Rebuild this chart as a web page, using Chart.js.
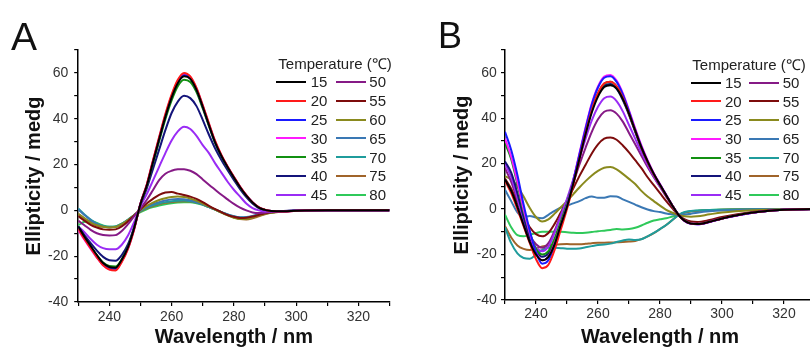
<!DOCTYPE html>
<html><head><meta charset="utf-8">
<script src="https://cdn.jsdelivr.net/npm/chart.js@4.4.1/dist/chart.umd.min.js"></script>
<style>
html,body{margin:0;padding:0;background:#fff;width:810px;height:349px;overflow:hidden;position:relative;font-family:"Liberation Sans",Arial,sans-serif;}
.panel{position:absolute;top:0;}
.letter{position:absolute;color:#111;line-height:1;}
.lg{position:absolute;font-size:15px;color:#222;line-height:18px;white-space:nowrap;}
.sw{position:absolute;height:2px;}
</style></head><body>
<div class="panel" style="left:0;width:400px;height:349px"><canvas id="ca" width="400" height="349"></canvas></div>
<div class="panel" style="left:420px;width:410px;height:349px"><canvas id="cb" width="410" height="349"></canvas></div>
<div class="letter" style="left:11px;top:17px;font-size:39px">A</div>
<div class="letter" style="left:438px;top:17.8px;font-size:36px">B</div>
<div id="legA"></div><div id="legB"></div>
<script>
// ---- data ----
const wavelengths = [230,232,234,236,238,240,242,244,246,248,250,252,254,256,258,260,262,264,266,268,270,272,274,276,278,280,282,284,286,288,290,292,296,300,310,320,330];
const temperatures = ['15','20','25','30','35','40','45','50','55','60','65','70','75','80'];
const colors = ['#000000','#ff1a1a','#1a1aff','#ff1aff','#119011','#14147a','#9a2cf5','#861a86','#7d0c0c','#8a8a1e','#3a78b4','#1f9c9c','#a0642a','#2fc95a'];
const xTickLabels = [240,260,280,300,320];
const yTickLabels = [-40,-20,0,20,40,60];

// Panel A
const A15 = [-7,-11.5,-15.5,-19.5,-23,-24.7,-25,-21.5,-16,-7.6,2.8,10.6,20.9,31,40.8,49.2,55.5,58.5,57.4,52.6,45.2,37.2,29.6,23.7,18.8,14.3,10.1,6.4,3.4,1.2,0.2,-0.3,-0.4,-0.2,0,0,0];
const A20 = [-8,-12.5,-16.5,-20.5,-24,-25.8,-26.2,-22.5,-16.8,-8.2,3,11.2,21.8,32,42,50.5,57,60,58.5,53.5,46,38,30.3,24.2,19.2,14.7,10.4,6.7,3.6,1.4,0.3,-0.3,-0.5,-0.2,0,0,0];
const A25 = [-7.5,-12,-16,-20,-23.5,-25.2,-25.5,-22,-16.3,-7.8,2.9,10.8,21.2,31.3,41.2,49.6,56,59,57.8,52.9,45.4,37.4,29.8,23.8,18.9,14.4,10.2,6.5,3.4,1.3,0.2,-0.3,-0.4,-0.2,0,0,0];
const A30 = [-8.5,-12.8,-16.8,-20.6,-24,-25.7,-26,-22.3,-16.6,-8,3,11,21.5,31.7,41.6,50,56.5,59.5,58.2,53.2,45.7,37.7,30,24,19,14.5,10.3,6.6,3.5,1.3,0.2,-0.3,-0.5,-0.2,0,0,0];
const A35 = [-8,-12.2,-16,-19.6,-22.8,-24.3,-24.5,-21.3,-15.8,-7.5,2.7,10.3,20.3,30.2,39.8,48,54.2,57,56,51.6,44.5,36.8,29.3,23.5,18.6,14.2,10,6.4,3.3,1.2,0.2,-0.3,-0.4,-0.2,0,0,0];
const A40 = [-7,-10.8,-14.3,-17.6,-20.3,-21.8,-22,-19.5,-14.8,-7.2,2.5,9.5,18,26.5,35,42.5,47.5,50,49,45.5,39.5,33,27,22,17.5,13.3,9.3,5.8,3,1,0.2,-0.3,-0.4,-0.2,0,0,0];
const A45 = [-7,-9.5,-12.5,-15,-16.5,-17,-17,-15,-11,-5,1.8,7,13,19,25,30.5,34.5,36.5,35.5,32.5,28.5,25,20.5,16.5,12.5,9,6,3,1,0,-0.5,-0.5,-0.3,-0.1,0,0,0];
const A50 = [-4.5,-6.5,-8.5,-10,-10.8,-11,-10.8,-9,-6,-2.5,0.8,4.5,8.8,13.2,16,17.3,17.9,18,17.3,15.8,13.5,11.2,9,6.8,4.8,2.8,1.2,0,-0.9,-1.2,-1,-0.7,-0.3,-0.1,0,0,0];
const A55 = [-2.5,-4.5,-6.3,-7.5,-8.3,-8.5,-8.3,-7,-4.8,-2.2,0.5,3,5,6.8,7.8,8,7.3,6.7,6,5,3.6,2,0.5,-0.8,-2,-2.8,-3.3,-3.2,-2.7,-2,-1.3,-0.8,-0.4,-0.2,0,0,0];
const A60 = [-1.5,-3.5,-5.3,-6.5,-7.2,-7.5,-7.3,-6,-4.2,-2,0.2,2,3.4,4.5,5.3,5.8,6,5.8,5.2,4.2,3,1.6,0.3,-1,-2.2,-3.2,-3.8,-3.7,-3.1,-2.2,-1.5,-1,-0.5,-0.2,0,0,0];
const A65 = [0.5,-2,-4.3,-6,-7,-7.4,-7.2,-6,-4.2,-2,0,1.5,2.7,3.6,4.3,4.8,5,4.9,4.4,3.6,2.6,1.4,0.3,-0.8,-1.8,-2.6,-3,-2.9,-2.4,-1.7,-1.1,-0.7,-0.3,-0.1,0,0,0];
const A70 = [0.8,-1.8,-4,-5.8,-6.8,-7.2,-7,-5.8,-4,-2,-0.2,1.2,2.2,3,3.6,4,4.2,4.3,4,3.4,2.5,1.4,0.3,-0.8,-1.8,-2.6,-3.1,-3.1,-2.6,-1.9,-1.2,-0.8,-0.4,-0.1,0,0,0];
const A75 = [-1.5,-3.5,-5.3,-6.5,-7.2,-7.4,-7.2,-6,-4.2,-2.2,-0.4,0.9,1.9,2.7,3.3,3.7,3.9,4,3.9,3.4,2.6,1.5,0.4,-0.8,-2,-3,-3.8,-4,-3.5,-2.6,-1.7,-1.1,-0.5,-0.2,0,0,0];
const A80 = [-6.5,-5,-4.6,-5.5,-6.6,-7.2,-7,-5.8,-4.2,-2.4,-0.8,0.5,1.4,2.1,2.7,3.1,3.4,3.5,3.5,3.1,2.4,1.4,0.3,-0.9,-2,-3,-3.5,-3.5,-3,-2.2,-1.4,-0.9,-0.4,-0.1,0,0,0];

// Panel B
const B15 = [13,8,1,-7,-14.5,-20,-22.5,-21,-15.5,-7,1,11,22,33,42.5,49.5,53.7,54.5,53,48.5,42,34.5,27.2,21,15.5,10.7,6.1,1.5,-2.6,-5.2,-6.4,-6.6,-5.6,-4.1,-1.5,-0.3,0];
const B20 = [12.5,7,0,-7.5,-15,-22,-26,-24.5,-18,-9,0,10.5,22,33.5,43.5,51,55.3,56,54,49,42,34.5,27,20.8,15.3,10.6,6,1.5,-2.6,-5.2,-6.4,-6.6,-5.6,-4.1,-1.5,-0.3,0];
const B25 = [34,26,15,2,-9.5,-19,-24,-22.5,-16,-7.5,1,12,24,35.5,46,53.5,57.8,58.5,56,50.5,43,35,27.5,21,15.5,10.8,6.2,1.6,-2.6,-5.3,-6.5,-6.7,-5.7,-4.2,-1.6,-0.3,0];
const B30 = [31,23,12,0,-10.5,-19,-22.5,-21,-15,-7,1.5,12.5,24.5,36,46.5,54,58.3,59,56.5,51,43.5,35.5,28,21.5,15.8,11,6.3,1.6,-2.6,-5.3,-6.5,-6.7,-5.7,-4.2,-1.6,-0.3,0];
const B35 = [29,22,11,-1,-10.5,-17.5,-20,-18.5,-13,-5.5,2.5,12.5,23.5,34.5,44,51,55.2,56,54,49,42,34.5,27,20.8,15.3,10.6,6,1.5,-2.6,-5.2,-6.4,-6.6,-5.6,-4.1,-1.5,-0.3,0];
const B40 = [21,16,7,-3.5,-12.5,-18.5,-21,-19.5,-14,-6,2,12,23,34,43.5,50.5,54.3,55,53,48,41.5,34,27,20.8,15.3,10.6,6,1.5,-2.6,-5.2,-6.4,-6.6,-5.6,-4.1,-1.5,-0.3,0];
const B45 = [20,14,5,-5,-12.5,-17,-18.5,-16.5,-10.5,-3,4.5,13,22,31,39,45,48.8,49.5,47.5,43,37,31,25,19.5,14.5,10,5.7,1.4,-2.6,-5.2,-6.4,-6.6,-5.6,-4.1,-1.5,-0.3,0];
const B50 = [18,12,4,-5,-11.5,-15.5,-17,-15,-9.5,-2.5,4,11.5,19.5,27,34,39.5,42.8,43.5,42,38.5,33.5,28.5,23.5,18.5,14,9.8,5.5,1.3,-2.6,-5,-6.2,-6.4,-5.4,-4,-1.5,-0.3,0];
const B55 = [13.5,9,3,-3,-8,-11,-12,-10.5,-6.5,-1.5,3.5,9,14.5,19.5,24.5,28.5,31,31.5,30.5,28,25,21.5,18,14,10.5,7,3.5,0.3,-2.6,-4.5,-5.5,-5.7,-4.8,-3.5,-1.3,-0.3,0];
const B60 = [14.5,13,10,5.5,0.5,-3.5,-5.5,-4.5,-2,0.8,3.5,6.5,9.5,12.3,14.8,16.8,18.2,18.5,17.5,15.5,13.3,11,8,5.5,3.5,1.5,-0.3,-1.6,-2.6,-3.2,-3.4,-3.2,-2.3,-1.5,-0.5,-0.1,0];
const B65 = [8.5,3.5,-1.5,-3.5,-3,-3.7,-4,-2.5,-0.8,0.6,1.5,2.5,3.5,4.8,5.5,5,5,5.6,5.5,4.3,3.2,2,0.8,-0.2,-0.9,-1.3,-1.9,-2.3,-2.6,-2.4,-2,-1.6,-1,-0.6,-0.2,0,0];
const B70 = [-8,-15,-19.5,-21.5,-21.8,-20,-18,-17,-17,-17.2,-17.4,-17.5,-17.3,-16.8,-16.3,-15.8,-15.6,-15.2,-14.5,-13.8,-13.4,-13.6,-13.3,-12,-10.5,-8.8,-7,-4.8,-2.6,-1.3,-0.8,-0.6,-0.4,-0.3,-0.1,0,0];
const B75 = [-7.5,-12.5,-16,-17.5,-18,-17.3,-16.5,-16,-15.7,-15.5,-15.4,-15.5,-15.5,-15.3,-15,-14.8,-14.8,-14.7,-14.6,-14.5,-14.3,-14,-13.2,-12,-10.6,-8.8,-7,-4.8,-2.7,-1.5,-1,-0.8,-0.5,-0.3,-0.1,0,0];
const B80 = [-2.5,-8,-11.5,-12,-11.3,-10.5,-10,-10,-10,-10,-10.2,-10.4,-10.5,-10.4,-10.1,-9.7,-9.5,-9.2,-8.8,-9,-8.8,-8.2,-7.2,-6,-5,-4.5,-4,-3.3,-2.6,-1.5,-1,-0.7,-0.4,-0.2,0,0,0];

const seriesA = [A15,A20,A25,A30,A35,A40,A45,A50,A55,A60,A65,A70,A75,A80];
const seriesB = [B15,B20,B25,B30,B35,B40,B45,B50,B55,B60,B65,B70,B75,B80];

const FONT = '"Liberation Sans", Arial, sans-serif';

function makeChart(id, series, g) {
  const datasets = series.map((arr, i) => ({
    label: temperatures[i],
    data: wavelengths.map((w, j) => ({x: w, y: arr[j]})),
    borderColor: colors[i],
    borderWidth: 2,
    pointRadius: 0,
    fill: false,
    cubicInterpolationMode: 'monotone'
  }));
  return new Chart(document.getElementById(id), {
    type: 'line',
    data: {datasets},
    options: {
      responsive: false, animation: false, devicePixelRatio: 1,
      layout: {padding: {left: 0, right: g.rightPad, top: g.topPad, bottom: 0}},
      plugins: {legend: {display: false}, tooltip: {enabled: false}},
      scales: {
        x: {
          type: 'linear', min: 230, max: 330,
          ticks: {stepSize: 10, autoSkip: false, maxRotation: 0, maxTicksLimit: 30,
            callback: v => xTickLabels.includes(v) ? String(v) : '',
            color: '#333', font: {size: 14, family: FONT}, padding: g.xTickPad},
          grid: {drawOnChartArea: false, drawTicks: true, tickLength: 4, color: '#000', lineWidth: 1.2},
          border: {display: true, color: '#000', width: 1.5},
          title: {display: true, text: 'Wavelength / nm', color: '#111', padding: 0,
            font: {size: 20, weight: 'bold', family: FONT}},
          afterFit: s => { s.height = g.xh; }
        },
        y: {
          type: 'linear', min: -40, max: 70,
          ticks: {stepSize: 10, autoSkip: false, maxTicksLimit: 30,
            callback: v => yTickLabels.includes(v) ? String(v) : '',
            color: '#333', font: {size: 14, family: FONT}, padding: g.yTickPad},
          grid: {drawOnChartArea: false, drawTicks: true, tickLength: 4, color: '#000', lineWidth: 1.2},
          border: {display: true, color: '#000', width: 1.5},
          title: {display: true, text: 'Ellipticity / medg', color: '#111', padding: {top: g.yTitlePad, bottom: 0},
            font: {size: 20, weight: 'bold', family: FONT}},
          afterFit: s => { s.width = g.yw; }
        }
      }
    }
  });
}

makeChart('ca', seriesA, {yw: 78.2, xh: 47, rightPad: 10.5, topPad: 50, xTickPad: 2.6, yTickPad: 6, yTitlePad: 22.6});
makeChart('cb', seriesB, {yw: 85, xh: 49, rightPad: 15, topPad: 50, xTickPad: 1.3, yTickPad: 4.3, yTitlePad: 30.6});

function buildLegend(el, L) {
  let html = `<div class="lg" style="left:${L.titleX}px;top:${L.titleY - 8.8}px">Temperature (℃)</div>`;
  temperatures.forEach((t, i) => {
    const col = Math.floor(i / 7), row = i % 7;
    const cy = L.row0 + row * L.rowH;
    const lx = col === 0 ? L.line1 : L.line2;
    const tx = col === 0 ? L.text1 : L.text2;
    html += `<div class="sw" style="left:${Math.round(lx)}px;top:${Math.round(cy - 1)}px;width:${L.lineW}px;background:${colors[i]}"></div>`;
    html += `<div class="lg" style="left:${tx}px;top:${cy - 8.8}px">${t}</div>`;
  });
  document.getElementById(el).innerHTML = html;
}
buildLegend('legA', {titleX: 278.3, titleY: 63.3, row0: 81.7, rowH: 18.9, line1: 276, line2: 336, text1: 310.7, text2: 369.3, lineW: 30});
buildLegend('legB', {titleX: 692.3, titleY: 65, row0: 82.7, rowH: 18.7, line1: 691, line2: 749, text1: 725, text2: 782.7, lineW: 30});
</script>
</body></html>
